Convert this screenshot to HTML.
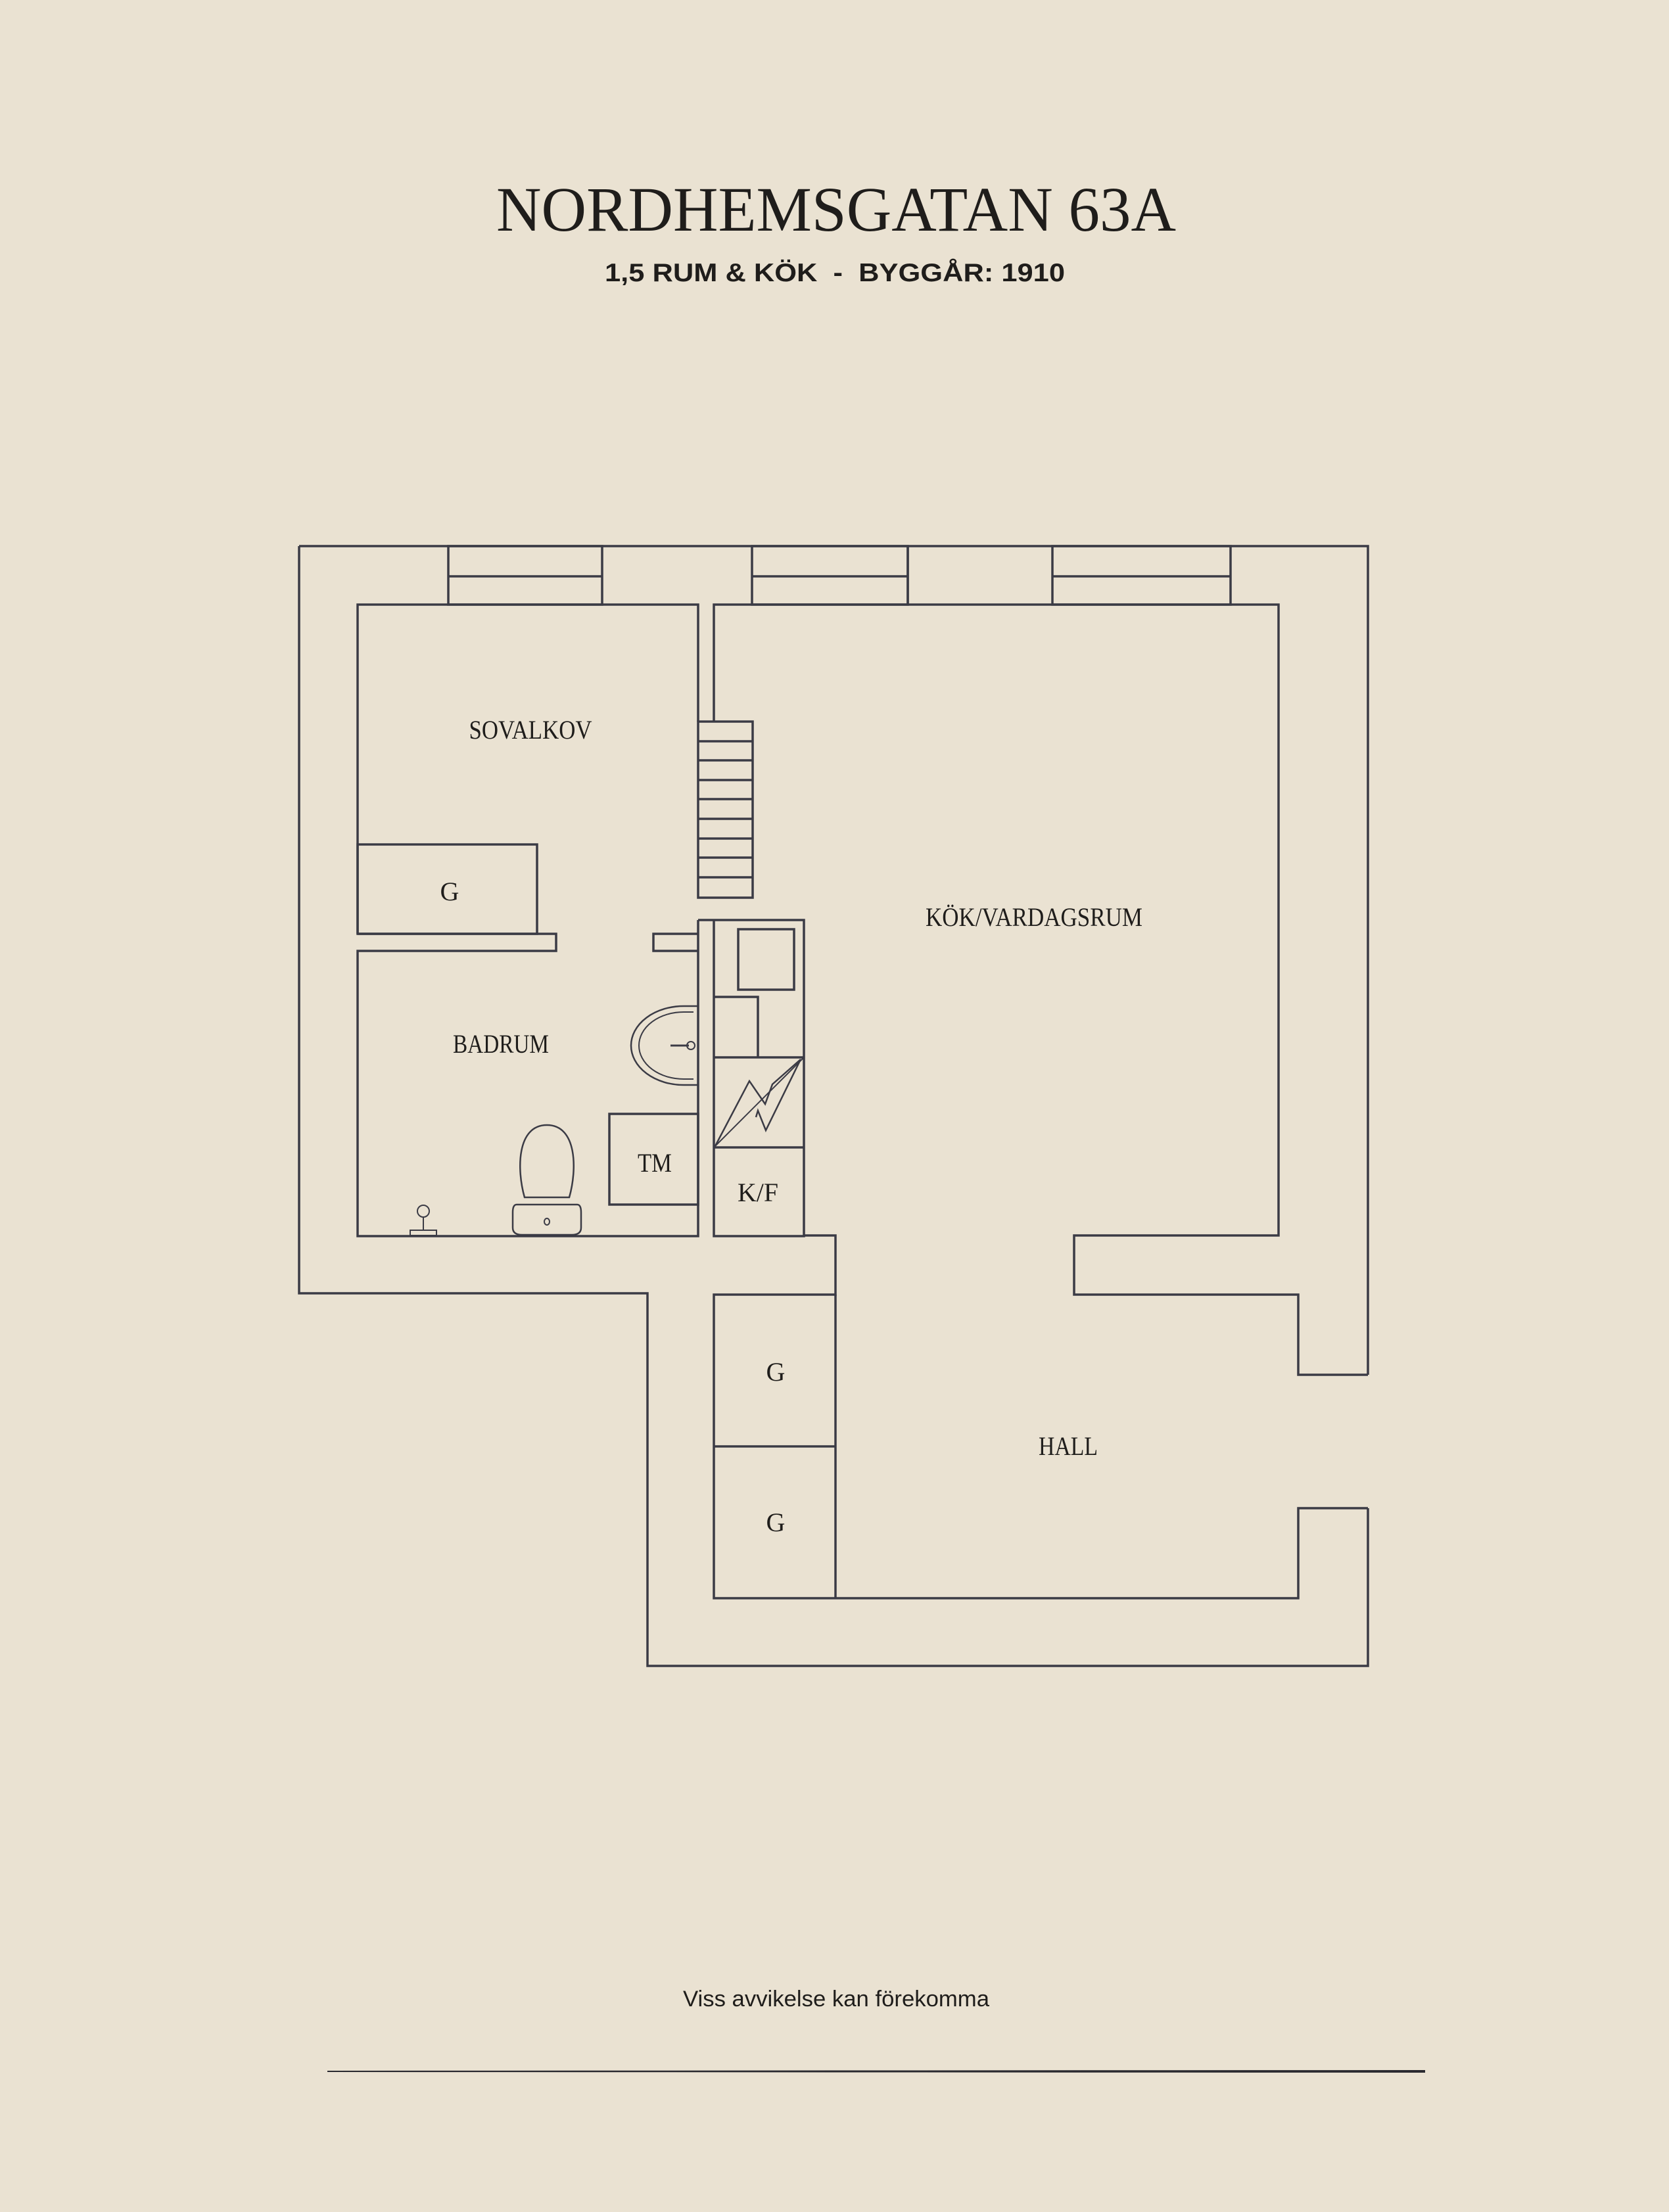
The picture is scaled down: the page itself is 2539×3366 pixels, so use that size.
<!DOCTYPE html>
<html><head><meta charset="utf-8"><style>
html,body{margin:0;padding:0;background:#EAE2D2;}
svg{display:block}
</style></head><body>
<svg width="2539" height="3366" viewBox="0 0 2539 3366" xmlns="http://www.w3.org/2000/svg">
<rect width="2539" height="3366" fill="#EAE2D2"/>
<text x="755" y="351" font-family="Liberation Serif, serif" font-size="96" fill="#1f1d1b" textLength="1034" lengthAdjust="spacingAndGlyphs">NORDHEMSGATAN 63A</text>
<text x="920" y="428" font-family="Liberation Sans, sans-serif" font-weight="bold" font-size="39" fill="#1f1d1b" textLength="700" lengthAdjust="spacingAndGlyphs" xml:space="preserve">1,5 RUM &amp; KÖK  -  BYGGÅR: 1910</text>

<g fill="none" stroke="#3b3b45" stroke-width="3.5" stroke-linejoin="miter">
<polyline points="455,831 2081,831 2081,2092"/>
<polyline points="455,831 455,1968 985,1968 985,2535 2081,2535 2081,2295"/>
<rect x="682" y="831" width="234" height="89"/><line x1="682" y1="877" x2="916" y2="877"/>
<rect x="1144" y="831" width="237" height="89"/><line x1="1144" y1="877" x2="1381" y2="877"/>
<line x1="1381" y1="831" x2="1381" y2="920"/>
<rect x="1601" y="831" width="271" height="89"/><line x1="1601" y1="877" x2="1872" y2="877"/>
<polyline points="1062,1098 1062,920 544,920 544,1421"/>
<rect x="544" y="1285" width="273" height="136"/>
<polyline points="544,1421 846,1421 846,1447 544,1447 544,1881 1062,1881 1062,1400"/>
<polyline points="1062,1421 994,1421 994,1447 1062,1447"/>
<rect x="1062" y="1098" width="83" height="268"/>
<line x1="1062" y1="1128" x2="1145" y2="1128"/><line x1="1062" y1="1157" x2="1145" y2="1157"/>
<line x1="1062" y1="1187" x2="1145" y2="1187"/><line x1="1062" y1="1216" x2="1145" y2="1216"/>
<line x1="1062" y1="1246" x2="1145" y2="1246"/><line x1="1062" y1="1276" x2="1145" y2="1276"/>
<line x1="1062" y1="1305" x2="1145" y2="1305"/><line x1="1062" y1="1335" x2="1145" y2="1335"/>
<polyline points="1086,1098 1086,920 1945,920 1945,1880 1634,1880 1634,1970 1975,1970 1975,2092 2081,2092"/>
<polyline points="2081,2295 1975,2295 1975,2432 1086,2432 1086,1970 1271,1970 1271,1880 1223,1880"/>
<line x1="1271" y1="1970" x2="1271" y2="2432"/>
<line x1="1086" y1="2201" x2="1271" y2="2201"/>
<polyline points="1062,1400 1223,1400 1223,1881 1086,1881 1086,1400"/>
<rect x="1123" y="1414" width="85" height="92"/>
<polyline points="1086,1517 1153,1517 1153,1609"/>
<line x1="1086" y1="1609" x2="1223" y2="1609"/>
<line x1="1086" y1="1746" x2="1223" y2="1746"/>
<polyline points="1086,1746 1223,1609" stroke-width="2"/>
<polyline points="1088,1744 1140,1645 1164,1680 1175,1650 1218,1612 1165,1720 1153,1690 1150,1700" stroke-width="2.5"/>
<path d="M1062,1531 L1040,1531 A80,60 0 0 0 1040,1651 L1062,1651" stroke-width="2.5"/>
<path d="M1055,1540 L1040,1540 A68,51 0 0 0 1040,1642 L1055,1642" stroke-width="2"/>
<line x1="1020" y1="1591" x2="1048" y2="1591" stroke-width="3"/>
<circle cx="1051" cy="1591" r="6" stroke-width="2"/>
<rect x="927" y="1695" width="135" height="138"/>
<path d="M798,1822 C786,1780 786,1712 832,1712 C878,1712 878,1780 866,1822 Z" stroke-width="2.5"/>
<path d="M786,1833 L878,1833 Q884,1833 884,1845 L884,1868 Q884,1879 870,1879 L794,1879 Q780,1879 780,1868 L780,1845 Q780,1833 786,1833 Z" stroke-width="2.5"/>
<ellipse cx="832" cy="1859" rx="4" ry="5" stroke-width="2"/>
<circle cx="644" cy="1843" r="9" stroke-width="2"/>
<line x1="644" y1="1852" x2="644" y2="1872" stroke-width="2"/>
<rect x="624" y="1872" width="40" height="8" stroke-width="2"/>
</g>

<g font-family="Liberation Serif, serif" font-size="40" fill="#1f1d1b" text-anchor="middle">
<text x="807" y="1124" textLength="187" lengthAdjust="spacingAndGlyphs">SOVALKOV</text>
<text x="684" y="1370">G</text>
<text x="1573" y="1409" textLength="330" lengthAdjust="spacingAndGlyphs">KÖK/VARDAGSRUM</text>
<text x="762" y="1602" textLength="146" lengthAdjust="spacingAndGlyphs">BADRUM</text>
<text x="996" y="1783" textLength="52" lengthAdjust="spacingAndGlyphs">TM</text>
<text x="1153" y="1828" textLength="62" lengthAdjust="spacingAndGlyphs">K/F</text>
<text x="1180" y="2101">G</text>
<text x="1180" y="2330">G</text>
<text x="1625" y="2214" textLength="90" lengthAdjust="spacingAndGlyphs">HALL</text>
</g>

<text x="1272" y="3053" font-family="Liberation Sans, sans-serif" font-size="34" fill="#1f1d1b" text-anchor="middle" textLength="466" lengthAdjust="spacingAndGlyphs">Viss avvikelse kan förekomma</text>
<path d="M498,3151 L2168,3150 L2168,3154 L498,3153 Z" fill="#2a2a30"/>
</svg>
</body></html>
